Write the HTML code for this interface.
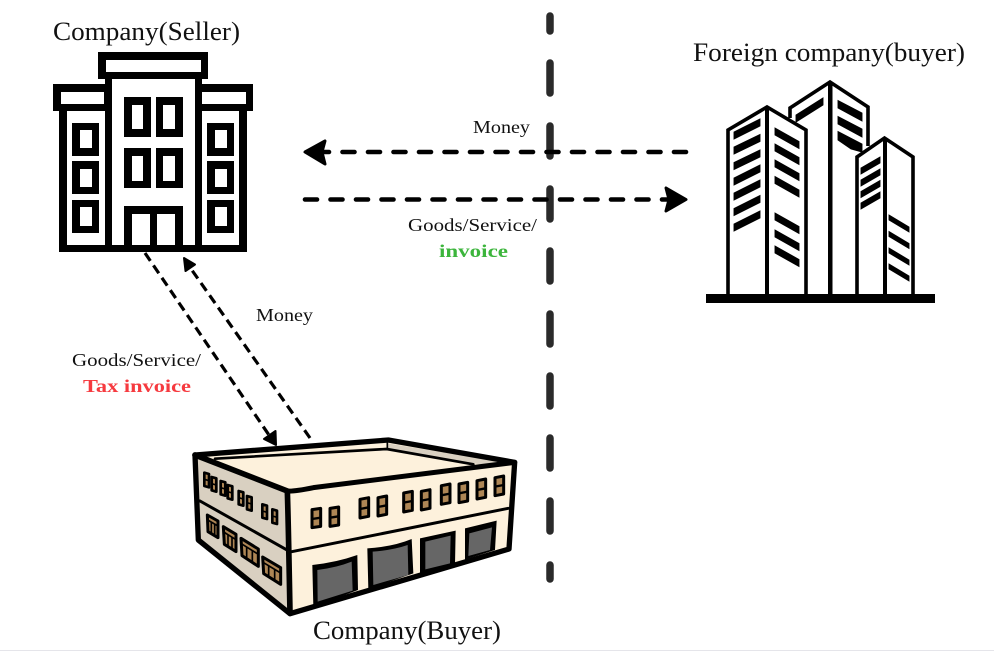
<!DOCTYPE html>
<html><head><meta charset="utf-8"><style>
html,body{margin:0;padding:0;background:#fff}
svg{display:block}
text{font-family:"Liberation Serif","DejaVu Serif",serif;fill:#111}
</style></head><body>
<svg width="994" height="651" viewBox="0 0 994 651" xmlns="http://www.w3.org/2000/svg">
<rect width="994" height="651" fill="#fff"/>
<rect y="650" width="994" height="1" fill="#e5e5ea"/>

<!-- vertical divider -->
<g stroke="#2a2a2a" stroke-width="7.5" stroke-linecap="round">
<line x1="550" y1="16" x2="550" y2="31"/><line x1="550" y1="63" x2="550" y2="93"/>
<line x1="550" y1="126" x2="550" y2="156"/><line x1="550" y1="189" x2="550" y2="219"/>
<line x1="550" y1="251" x2="550" y2="281"/><line x1="550" y1="314" x2="550" y2="344"/>
<line x1="550" y1="376" x2="550" y2="406"/><line x1="550" y1="438" x2="550" y2="468"/>
<line x1="550" y1="501" x2="550" y2="531"/><line x1="550" y1="565" x2="550" y2="579"/>
</g>

<!-- seller building -->
<g fill="#000">
<path fill-rule="evenodd" d="M98 52H208V79H202V84H253V111H247V252H59V111H53V84H105V79H98ZM106 60V72H201V60ZM112 79V245H124V206H183V245H195V79ZM61 92V104H104V92ZM202 92V104H246V92ZM67 111V245H105V111ZM202 111V245H239V111ZM132 214V245H150V214ZM157 214V245H175V214Z"/>
<path fill-rule="evenodd" d="M72 123H99V156H72ZM80 130V148H92V130ZM72 161H99V194H72ZM80 169V187H92V169ZM72 200H99V233H72ZM80 207V226H92V207Z"/>
<path fill-rule="evenodd" d="M207 123H234V156H207ZM215 130V148H227V130ZM207 161H234V194H207ZM215 169V187H227V169ZM207 200H234V233H207ZM215 207V226H227V207Z"/>
<path fill-rule="evenodd" d="M124 97H151V137H124ZM132 105V129H143V105ZM156 97H183V137H156ZM163 105V129H175V105ZM124 148H151V188H124ZM132 156V181H143V156ZM156 148H183V188H156ZM163 156V181H175V156Z"/>
</g>

<!-- foreign buildings -->
<g fill="none" stroke="#000" stroke-width="3.6">
<path d="M790 118V108L830 82L868 107V146"/>
<path d="M728 294V130L767 107L806 130V294"/>
<path d="M857 294V157L884.500 138L913 157V294"/>
</g>
<g fill="#000" stroke="#000" stroke-width="0.9">
<rect x="765" y="107" width="4" height="188" stroke="none"/>
<rect x="828" y="82" width="4.500" height="213" stroke="none"/>
<rect x="883" y="138" width="4" height="157" stroke="none"/>
<rect x="706" y="294" width="229" height="9" stroke="none"/>
<!-- left tower left face -->
<path d="M734 132L760 119V126L734 139ZM734 147L760 134.500V141.500L734 154ZM734 162.500L760 150V157L734 169.500ZM734 178L760 165V172L734 185ZM734 193L760 180V187L734 200ZM734 208.500L760 195.500V202.500L734 215.500ZM734 224L760 211V218L734 231Z"/>
<!-- left tower right face -->
<path d="M775 128L799 141.500V148.500L775 135ZM775 144L799 157.500V164.500L775 151ZM775 160L799 173.500V180.500L775 167ZM775 176.500L799 190V197L775 183.500ZM775 213L799 226.500V233.500L775 220ZM775 230L799 243.500V250.500L775 237ZM775 246L799 259.500V266.500L775 253Z"/>
<!-- middle -->
<path d="M796 115L823 98V105L796 122Z"/>
<path d="M838 100.500L862 113V121L838 108ZM838 116.500L862 129V137L838 124ZM838 131.500L862 144V152L851 149L838 140Z"/>
<!-- right tower -->
<path d="M861 168L880 157V163L861 174ZM861 180L880 169V175L861 186ZM861 191.500L880 180.500V186.500L861 197.500ZM861 203L880 192V198L861 209Z"/>
<path d="M889 215L909 227V232L889 220ZM889 231.500L909 243.500V248.500L889 236.500ZM889 248L909 260V265L889 253ZM889 264L909 276V281L889 269Z"/>
</g>

<!-- horizontal arrows -->
<g stroke="#000" stroke-width="4.600" stroke-linecap="round" fill="none" stroke-dasharray="12 13.500">
<line x1="686" y1="152" x2="316" y2="152"/>
<line x1="305" y1="199.500" x2="672" y2="199.500"/>
</g>
<path d="M305 152L325 141L322 152L325 164Z" fill="#000" stroke="#000" stroke-width="3" stroke-linejoin="round"/>
<path d="M686 199.500L666 188L669 199.500L666 211Z" fill="#000" stroke="#000" stroke-width="3" stroke-linejoin="round"/>

<!-- diagonal arrows -->
<g stroke="#000" stroke-width="3.200" fill="none" stroke-dasharray="9.500 5.500">
<line x1="145" y1="253" x2="271" y2="438"/>
<line x1="310" y1="438" x2="189" y2="266"/>
</g>
<path d="M276 445L264 439L275.500 431Z" fill="#000" stroke="#000" stroke-width="2" stroke-linejoin="round"/>
<path d="M184 258L195 264.500L185.500 271Z" fill="#000" stroke="#000" stroke-width="2" stroke-linejoin="round"/>

<!-- buyer building -->
<g transform="translate(180 425) scale(.33333)">
<path d="M45 90L625 45L1004 112L987 372L330 566L55 345Z" fill="#fdf1dc"/>
<path d="M45 90L322 198L330 565L55 345Z" fill="#d9d0c1"/>
<path d="M622 55L620 72L900 118L965 110Z" fill="#d9d0c1"/>
<g fill="none" stroke="#000" stroke-linejoin="round" stroke-linecap="round">
<path d="M105 101L620 72L880 118" stroke-width="8"/>
<path d="M622 50V72" stroke-width="5"/>
<path d="M60 228L330 380" stroke-width="9"/>
<path d="M335 380L985 250" stroke-width="9"/>
<path d="M45 90L625 45L1004 112L987 372L330 566L55 345Z" stroke-width="16"/>
<path d="M45 90L322 198Q325 290 330 565" stroke-width="17"/>
<path d="M322 198Q340 200 400 188L1004 112" stroke-width="15"/>
</g>
<!-- doors -->
<path d="M397 420Q470 412 532 390L534 495L400 545Z M562 370Q640 365 695 342L700 445L565 492Z M720 340L827 317L825 420L720 445Z M855 310L950 287L945 375L855 404Z" fill="#000"/>
<path d="M412 435Q470 428 515 410L518 497L413 530Z M578 380Q640 375 683 360L685 450L580 480Z M736 350L812 332L810 415L736 433Z M868 325L936 307L930 375L865 393Z" fill="#666"/>
<!-- front windows -->
<g fill="#ae8655" stroke="#000" stroke-width="9" stroke-linejoin="round">
<path d="M396 254L422 250V304L396 308Z"/><path d="M450 250L476 246V300L450 304Z"/>
<path d="M540 223L566 218V274L540 279Z"/><path d="M594 218L620 213V268L594 273Z"/>
<path d="M671 204L697 199V256L671 261Z"/><path d="M724 199L750 194V250L724 255Z"/>
<path d="M784 182L810 177V233L784 238Z"/><path d="M837 177L863 172V228L837 233Z"/>
<path d="M891 167L917 162V217L891 222Z"/><path d="M945 158L971 153V207L945 212Z"/>
</g>
<g stroke="#000" stroke-width="7">
<line x1="396" y1="282" x2="422" y2="278"/><line x1="450" y1="278" x2="476" y2="274"/>
<line x1="540" y1="252" x2="566" y2="247"/><line x1="594" y1="246" x2="620" y2="241"/>
<line x1="671" y1="233" x2="697" y2="228"/><line x1="724" y1="227" x2="750" y2="222"/>
<line x1="784" y1="211" x2="810" y2="206"/><line x1="837" y1="205" x2="863" y2="200"/>
<line x1="891" y1="195" x2="917" y2="190"/><line x1="945" y1="185" x2="971" y2="180"/>
</g>
<!-- left upper windows -->
<g fill="#ae8655" stroke="#000" stroke-width="8" stroke-linejoin="round">
<path d="M73 143L87 147V187L73 183Z"/><path d="M95 156L109 160V200L95 196Z"/>
<path d="M122 168L136 172V212L122 208Z"/><path d="M143 180L157 184V224L143 220Z"/>
<path d="M176 198L190 202V242L176 238Z"/><path d="M201 213L215 217V257L201 253Z"/>
<path d="M247 238L261 242V282L247 278Z"/><path d="M277 253L291 257V297L277 293Z"/>
</g>
<g stroke="#000" stroke-width="5">
<line x1="73" y1="163" x2="87" y2="167"/><line x1="95" y1="176" x2="109" y2="180"/>
<line x1="122" y1="188" x2="136" y2="192"/><line x1="143" y1="200" x2="157" y2="204"/>
<line x1="176" y1="218" x2="190" y2="222"/><line x1="201" y1="233" x2="215" y2="237"/>
<line x1="247" y1="258" x2="261" y2="262"/><line x1="277" y1="273" x2="291" y2="277"/>
</g>
<!-- left lower windows -->
<g fill="#ae8655" stroke="#000" stroke-width="9" stroke-linejoin="round">
<path d="M82 270L114 288V338L84 320Z"/>
<path d="M130 305L168 328V380L133 358Z"/>
<path d="M183 340L235 372V424L186 392Z"/>
<path d="M248 396L302 428V478L251 446Z"/>
</g>
<g stroke="#000" stroke-width="5">
<line x1="83" y1="285" x2="114" y2="303"/><line x1="94" y1="292" x2="94" y2="326"/><line x1="104" y1="298" x2="104" y2="332"/>
<line x1="131" y1="321" x2="168" y2="344"/><line x1="144" y1="329" x2="144" y2="366"/><line x1="156" y1="337" x2="156" y2="374"/>
<line x1="184" y1="356" x2="235" y2="388"/><line x1="200" y1="366" x2="200" y2="402"/><line x1="217" y1="377" x2="217" y2="412"/>
<line x1="249" y1="412" x2="302" y2="444"/><line x1="266" y1="422" x2="266" y2="456"/><line x1="284" y1="433" x2="284" y2="467"/>
</g>
</g>

<!-- labels -->
<text x="53" y="40" font-size="26" textLength="187" lengthAdjust="spacingAndGlyphs">Company(Seller)</text>
<text x="693" y="61" font-size="26" textLength="272" lengthAdjust="spacingAndGlyphs">Foreign company(buyer)</text>
<text x="313" y="639" font-size="26" textLength="188" lengthAdjust="spacingAndGlyphs">Company(Buyer)</text>
<text x="473" y="133" font-size="18" textLength="57" lengthAdjust="spacingAndGlyphs">Money</text>
<text x="408" y="231" font-size="18" textLength="129" lengthAdjust="spacingAndGlyphs">Goods/Service/</text>
<text x="439" y="257" font-size="18" font-weight="bold" style="fill:#3cb53c" textLength="69" lengthAdjust="spacingAndGlyphs">invoice</text>
<text x="256" y="321" font-size="18" textLength="57" lengthAdjust="spacingAndGlyphs">Money</text>
<text x="72" y="366" font-size="18" textLength="129" lengthAdjust="spacingAndGlyphs">Goods/Service/</text>
<text x="83" y="392" font-size="18" font-weight="bold" style="fill:#f63a3f" textLength="108" lengthAdjust="spacingAndGlyphs">Tax invoice</text>
</svg>
</body></html>
